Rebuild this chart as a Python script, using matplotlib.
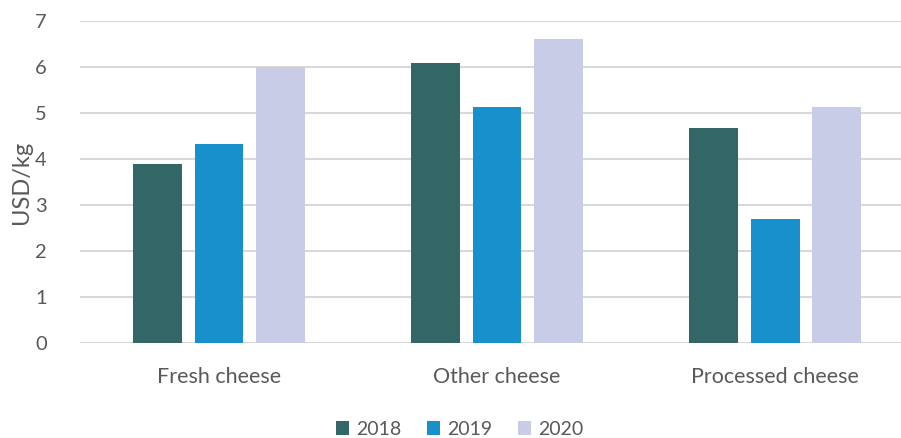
import numpy as np
import matplotlib
matplotlib.use("Agg")
from matplotlib import pyplot as plt

# data
categories = ["Fresh cheese", "Other cheese", "Processed cheese"]
years = ["2018", "2019", "2020"]
values_2018 = [3.9, 6.08, 4.67]
values_2019 = [4.33, 5.12, 2.7]
values_2020 = [6.01, 6.61, 5.12]
colors = ["#336666", "#1890CB", "#C8CCE6"]

plt.rcParams['font.family'] = ['Lato', 'DejaVu Sans']
txt = "#595959"

fig = plt.figure(figsize=(9.01, 4.38), dpi=100)
ax = fig.add_axes([80 / 901, 1 - 343 / 438, 1 - 80 / 901, (343 - 21) / 438])

x = np.arange(len(categories))
width = 0.176
step = 0.221
for i, (vals, year) in enumerate(zip([values_2018, values_2019, values_2020], years)):
    ax.bar(x + (i - 1) * step, vals, width, color=colors[i], label=year, zorder=3)

ax.set_xlim(-0.5, 2.453)
ax.set_ylim(0, 7)
ax.set_yticks(range(0, 8))
ax.grid(axis='y', color='#D9D9D9', linewidth=1.5, zorder=0)
for s in ax.spines.values():
    s.set_visible(False)
ax.tick_params(axis='both', length=0, colors=txt)
ax.tick_params(axis='y', pad=24, labelsize=14.5)
ax.tick_params(axis='x', pad=17, labelsize=15.5)
ax.set_xticks(x)
ax.set_xticklabels(categories)
ax.set_ylabel("USD/kg", color=txt, fontsize=17, labelpad=2)

fig.legend(loc='lower center', bbox_to_anchor=(0.51, -0.04), ncol=3, frameon=False,
           fontsize=14, labelcolor=txt, handlelength=0.7, handleheight=0.7,
           handletextpad=0.35, columnspacing=1.3)

fig.savefig("out.png", dpi=100)
